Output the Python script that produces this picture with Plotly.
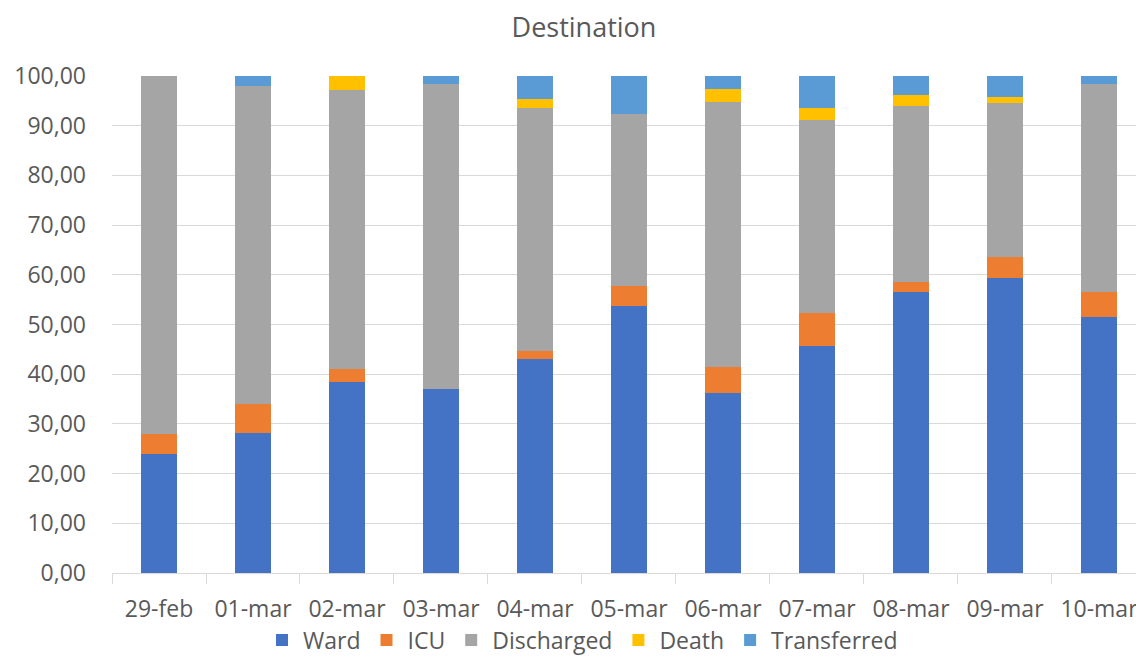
import plotly.graph_objects as go

categories = ["29-feb", "01-mar", "02-mar", "03-mar", "04-mar", "05-mar",
              "06-mar", "07-mar", "08-mar", "09-mar", "10-mar"]
ward = [24.0, 28.2, 38.5, 37.0, 43.1, 53.8, 36.3, 45.7, 56.5, 59.4, 51.6]
icu = [4.0, 5.8, 2.5, 0.0, 1.6, 3.9, 5.1, 6.6, 2.1, 4.1, 4.9]
discharged = [72.0, 64.0, 56.2, 61.3, 48.9, 34.6, 53.3, 38.8, 35.4, 31.0, 41.8]
death = [0.0, 0.0, 2.8, 0.0, 1.7, 0.0, 2.7, 2.4, 2.2, 1.3, 0.0]
transferred = [0.0, 2.0, 0.0, 1.7, 4.7, 7.7, 2.6, 6.5, 3.8, 4.2, 1.7]

series = [
    ("Ward", ward, "#4472C4"),
    ("ICU", icu, "#ED7D31"),
    ("Discharged", discharged, "#A5A5A5"),
    ("Death", death, "#FFC000"),
    ("Transferred", transferred, "#5B9BD5"),
]

font_family = "Open Sans"
text_color = "#595959"

fig = go.Figure()
for name, vals, color in series:
    fig.add_trace(go.Bar(x=categories, y=vals, name=name,
                         marker=dict(color=color, line=dict(width=0))))

fig.update_layout(
    barmode="stack",
    bargap=0.62,
    width=1136, height=656,
    margin=dict(l=112, r=0, t=76, b=83),
    paper_bgcolor="white", plot_bgcolor="white",
    separators=",.",
    font=dict(family=font_family, size=22, color=text_color),
    title=dict(text="Destination", x=584 / 1136, xanchor="center",
               y=1 - 28 / 656, yanchor="middle",
               font=dict(family=font_family, size=27, color=text_color)),
    showlegend=True,
    legend=dict(orientation="h", xref="container", yref="container",
                x=582 / 1136, xanchor="center",
                y=1 - 640 / 656, yanchor="middle",
                font=dict(family=font_family, size=23, color=text_color),
                traceorder="normal", itemwidth=32, tracegroupgap=0),
    xaxis=dict(type="category", range=[-0.5, 10.394], showgrid=False,
               automargin=False,
               showline=True, linecolor="#D9D9D9", linewidth=1,
               ticks="outside", tickson="boundaries", ticklen=10,
               tickcolor="#D9D9D9", ticklabelstandoff=15,
               tickfont=dict(family=font_family, size=23, color=text_color)),
    yaxis=dict(range=[0, 100], dtick=10, tickformat=".2f",
               automargin=False,
               showgrid=True, gridcolor="#D9D9D9", gridwidth=1,
               zeroline=False, showline=False, ticks="",
               ticklabelstandoff=25,
               tickfont=dict(family=font_family, size=23, color=text_color)),
)

fig.write_html("out.html")
